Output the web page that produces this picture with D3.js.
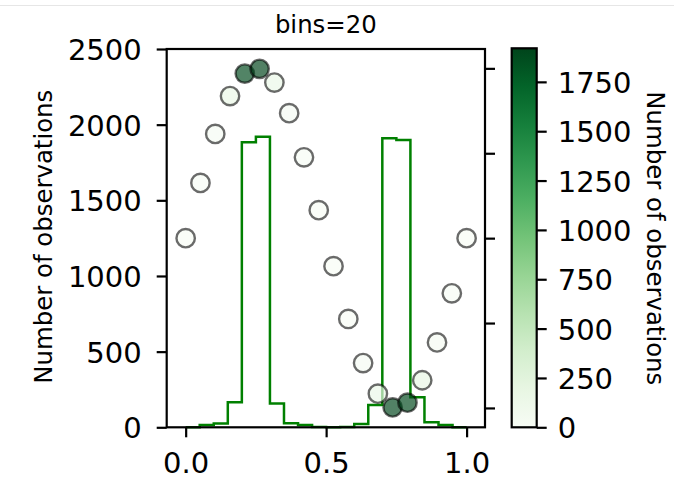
<!DOCTYPE html>
<html lang="en">
<head>
    <meta charset="UTF-8">
    <title>bins=20</title>
    <script src="https://d3js.org/d3.v7.min.js"></script>
    <style>
        body {
            margin: 0;
            background-color: #ffffff;
            font-family: "DejaVu Sans", sans-serif;
        }
        .frame {
            fill: none;
            stroke: #000;
            stroke-width: 2.2;
        }
        .tick line {
            stroke: #000;
            stroke-width: 2.2;
        }
        .tick text {
            fill: #000;
        }
    </style>
</head>
<body>

<svg id="chart" width="674" height="480"></svg>

<script>
    // data
    const binEdges = [0, 0.05, 0.1, 0.15, 0.2, 0.25, 0.3, 0.35, 0.4, 0.45, 0.5,
                      0.55, 0.6, 0.65, 0.7, 0.75, 0.8, 0.85, 0.9, 0.95, 1.0];
    const binCounts = [0, 16, 25, 165, 1883, 1920, 158, 26, 16, 2,
                       0, 2, 22, 148, 1910, 1899, 198, 33, 16, 0];
    const pointX = [0, 0.0526, 0.1053, 0.1579, 0.2105, 0.2632, 0.3158, 0.3684, 0.4211, 0.4737,
                    0.5263, 0.5789, 0.6316, 0.6842, 0.7368, 0.7895, 0.8421, 0.8947, 0.9474, 1.0];
    const pointY = [0, 0.325, 0.614, 0.837, 0.969, 0.997, 0.916, 0.736, 0.476, 0.165,
                    -0.165, -0.476, -0.736, -0.916, -0.997, -0.969, -0.837, -0.614, -0.325, 0];
    const pointColor = [0, 16, 25, 165, 1883, 1920, 158, 26, 16, 2,
                        0, 2, 22, 148, 1910, 1899, 198, 33, 16, 0];
    const xTicks = [0, 0.5, 1.0];
    const yTicks = [0, 500, 1000, 1500, 2000, 2500];
    const yRightTicks = [-1, -0.5, 0, 0.5, 1];
    const cbarTicks = [0, 250, 500, 750, 1000, 1250, 1500, 1750];

    const svg = d3.select("#chart");
    const font = "DejaVu Sans";

    const pLeft = 166.7, pRight = 485, pTop = 49, pBottom = 427.3;

    const x = d3.scaleLinear().domain([-0.0675, 1.0655]).range([pLeft, pRight]);
    const y = d3.scaleLinear().domain([0, 2500]).range([pBottom, pTop]);
    const yRight = d3.scaleLinear().domain([-1.114, 1.114]).range([pBottom, pTop]);
    const color = d3.scaleSequential(d3.interpolateGreens).domain([0, 1920]);

    // thin border line at the very top
    svg.append("line")
        .attr("x1", 0).attr("x2", 674)
        .attr("y1", 5.5).attr("y2", 5.5)
        .attr("stroke", "#e6e6e6")
        .attr("stroke-width", 1);

    // step histogram
    const stepPts = [[binEdges[0], 0]];
    binCounts.forEach((c, i) => stepPts.push([binEdges[i], c]));
    stepPts.push([binEdges[binEdges.length - 1], binCounts[binCounts.length - 1]]);
    stepPts.push([binEdges[binEdges.length - 1], 0]);

    svg.append("path")
        .attr("d", d3.line()
            .x(d => x(d[0]))
            .y(d => y(d[1]))
            .curve(d3.curveStepAfter)(stepPts))
        .attr("fill", "none")
        .attr("stroke", "#008000")
        .attr("stroke-width", 2.5);

    // scatter on twin axis
    svg.append("g")
        .selectAll("circle")
        .data(pointX.map((v, i) => ({x: v, y: pointY[i], c: pointColor[i]})))
        .join("circle")
        .attr("cx", d => x(d.x))
        .attr("cy", d => yRight(d.y))
        .attr("r", 9.2)
        .attr("fill", d => color(d.c))
        .attr("fill-opacity", 0.68)
        .attr("stroke", "#000")
        .attr("stroke-opacity", 0.58)
        .attr("stroke-width", 2.4);

    // frame
    svg.append("rect")
        .attr("x", pLeft)
        .attr("y", pTop)
        .attr("width", pRight - pLeft)
        .attr("height", pBottom - pTop)
        .attr("class", "frame");

    // axes
    const gLeft = svg.append("g")
        .attr("transform", `translate(${pLeft},0)`)
        .call(d3.axisLeft(y).tickValues(yTicks).tickSize(10).tickPadding(15).tickFormat(d3.format("d")));
    gLeft.select(".domain").remove();
    gLeft.selectAll("text").attr("dy", "0.36em");

    const gBottom = svg.append("g")
        .attr("transform", `translate(0,${pBottom})`)
        .call(d3.axisBottom(x).tickValues(xTicks).tickSize(10).tickPadding(15).tickFormat(d3.format(".1f")));
    gBottom.select(".domain").remove();

    const gRight = svg.append("g")
        .attr("transform", `translate(${pRight},0)`)
        .call(d3.axisRight(yRight).tickValues(yRightTicks).tickSize(10).tickFormat(""));
    gRight.select(".domain").remove();

    [gLeft, gBottom, gRight].forEach(g => g
        .attr("font-family", font)
        .attr("font-size", 29));

    // axis labels and title
    svg.append("text")
        .attr("transform", "translate(52.3,236.7) rotate(-90)")
        .attr("text-anchor", "middle")
        .attr("font-family", font)
        .attr("font-size", 24.4)
        .text("Number of observations");

    svg.append("text")
        .attr("x", (pLeft + pRight) / 2)
        .attr("y", 33.3)
        .attr("text-anchor", "middle")
        .attr("font-family", font)
        .attr("font-size", 24.4)
        .text("bins=20");

    // colorbar
    const cbX = 511.7, cbW = 25;
    const cb = d3.scaleLinear().domain([0, 1920]).range([pBottom, 48.3]);

    const grad = svg.append("defs").append("linearGradient")
        .attr("id", "greens")
        .attr("x1", 0).attr("y1", 1)
        .attr("x2", 0).attr("y2", 0);
    d3.range(0, 1.0001, 0.1).forEach(t => {
        grad.append("stop")
            .attr("offset", t)
            .attr("stop-color", d3.interpolateGreens(t));
    });

    svg.append("rect")
        .attr("x", cbX)
        .attr("y", cb(1920))
        .attr("width", cbW)
        .attr("height", cb(0) - cb(1920))
        .attr("fill", "url(#greens)")
        .attr("stroke", "#000")
        .attr("stroke-width", 2.2);

    const gCb = svg.append("g")
        .attr("transform", `translate(${cbX + cbW},0)`)
        .call(d3.axisRight(cb).tickValues(cbarTicks).tickSize(10).tickPadding(11).tickFormat(d3.format("d")))
        .attr("font-family", font)
        .attr("font-size", 29);
    gCb.select(".domain").remove();
    gCb.selectAll("text").attr("dy", "0.36em");

    svg.append("text")
        .attr("transform", "translate(646.7,238.3) rotate(90)")
        .attr("text-anchor", "middle")
        .attr("font-family", font)
        .attr("font-size", 24.4)
        .text("Number of observations");

</script>

</body>
</html>
